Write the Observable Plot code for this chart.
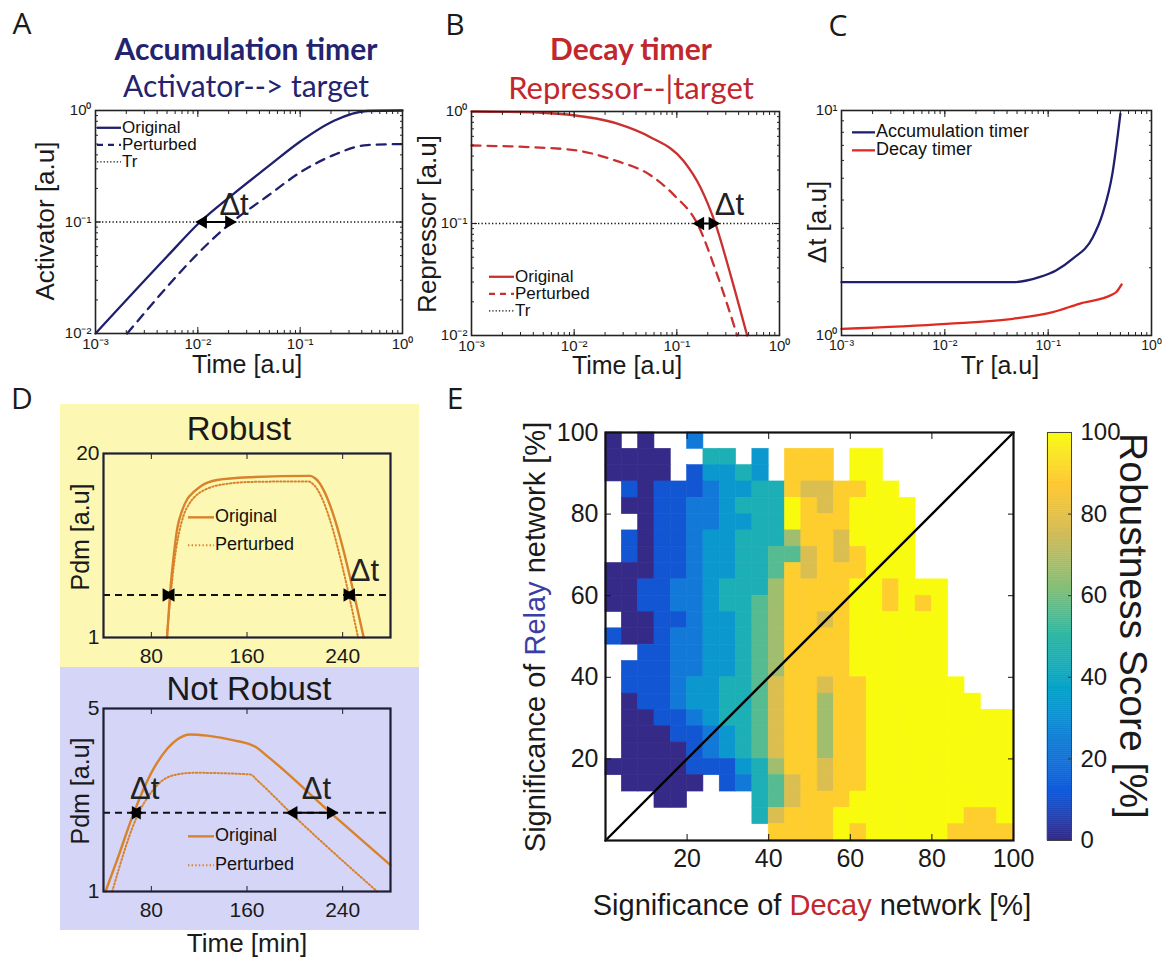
<!DOCTYPE html>
<html><head><meta charset="utf-8">
<script src="https://cdn.jsdelivr.net/npm/d3@7"></script>
<script src="https://cdn.jsdelivr.net/npm/@observablehq/plot@0.6"></script>
<style>
body{margin:0;background:#fff;}
#fig{position:relative;width:1162px;height:963px;overflow:hidden;background:#fff;font-family:"Liberation Sans",Arial,sans-serif;color:#222;}
.abs{position:absolute;white-space:nowrap;line-height:1;}
#fig svg{position:absolute;overflow:visible;}
</style></head>
<body><div id="fig"></div>
<script>
// ================= DATA =================
// Panel A – accumulation timer
const timeTicks = [1e-3, 1e-2, 1e-1, 1];
const timeTickLabels = ["10⁻³", "10⁻²", "10⁻¹", "10⁰"];
const levelTicks = [1e-2, 1e-1, 1];
const levelTickLabels = ["10⁻²", "10⁻¹", "10⁰"];
const accumTime = [0.001, 0.005, 0.0105, 0.0225, 0.0476, 0.101, 0.214, 0.452, 1];
const accumOriginal = [0.01, 0.049, 0.1, 0.18, 0.31, 0.53, 0.81, 0.99, 1];
const accumPertTime = [0.00204, 0.0216, 0.0476, 0.101, 0.214, 0.452, 1];
const accumPerturbed = [0.01, 0.1, 0.17, 0.28, 0.40, 0.49, 0.5];
const trLevel = 0.1;
const accumDeltaT = [0.0105, 0.0216];

// Panel B – decay timer
const decayTime = [0.001, 0.003, 0.00855, 0.0263, 0.0553, 0.117, 0.17, 0.238, 0.333, 0.484];
const decayOriginal = [1, 0.99, 0.94, 0.78, 0.59, 0.36, 0.21, 0.099, 0.035, 0.01];
const decayPertTime = [0.001, 0.00855, 0.0263, 0.0553, 0.0935, 0.158, 0.247, 0.387];
const decayPerturbed = [0.497, 0.46, 0.36, 0.27, 0.18, 0.1, 0.035, 0.01];
const decayDeltaT = [0.158, 0.238];

// Panel C – delta t vs threshold
const trTicks = [1e-3, 1e-2, 1e-1, 1];
const dtTicks = [1, 10];
const dtTickLabels = ["10⁰", "10¹"];
const trAccum = [0.001, 0.0456, 0.082, 0.119, 0.172, 0.269, 0.336, 0.418, 0.5];
const dtAccum = [1.725, 1.725, 1.816, 1.945, 2.19, 2.72, 3.47, 5.23, 9.67];
const trDecay = [0.001, 0.0104, 0.0456, 0.111, 0.2, 0.418, 0.457, 0.514];
const dtDecay = [1.07, 1.127, 1.186, 1.27, 1.383, 1.52, 1.56, 1.686];

// Panel D – Pdm profiles
const minTicks = [80, 160, 240];
const pdmThreshold = 2;
const robustTime = [93.2, 96.0, 98.8, 101.6, 105.8, 110, 115.5, 121.1, 135, 162.9, 213, 217.2, 257.6];
const robustOriginal = [1, 2.22, 3.83, 5.85, 7.92, 9.5, 10.7, 11.7, 13.0, 13.6, 13.9, 13.3, 1];
const robustPertTime = [92.8, 96.2, 99.5, 103, 107, 112, 118, 125, 140, 165, 211.5, 215, 252.9];
const robustPerturbed = [1, 2, 3.6, 5.4, 7.3, 8.9, 10.2, 11.1, 12.1, 12.6, 12.7, 12.2, 1];
const robustDeltaT = [[93.6, 95.2], [244.5, 246.5]];
const notRobustTime = [41.7, 51.4, 65.4, 79.3, 93.3, 101.6, 112.7, 126.7, 149, 167, 176.9, 232.6, 280];
const notRobustOriginal = [1, 1.32, 2.0, 2.8, 3.51, 3.81, 3.98, 3.94, 3.78, 3.57, 3.29, 1.95, 1.26];
const notRobustPertTime = [47.3, 69.5, 79.3, 87.7, 101.6, 115.5, 162.9, 168.5, 196.4, 268.8];
const notRobustPerturbed = [1, 2.0, 2.37, 2.62, 2.80, 2.84, 2.80, 2.66, 2.0, 1];
const notRobustDeltaT = [[65.4, 69.5], [196.4, 232.6]];

// Panel E – robustness score map (4% cells; rows from Relay 100 down to 0,
// columns Decay 0 -> 100; digit d = score d/9*100, "." = no data)
const eCellSize = 4;
const scoreRows = [
  "0.0..2...................",
  "0000..44.3.888.99........",
  "0000.13343.888.99........",
  ".10111233448778899........".slice(0, 25),
  ".001122344498789999......",
  "..01122334498889999......",
  ".101123344468879999......",
  ".101123344557878999......",
  "0001123344587888999......",
  "001122344468888998999....",
  "001122344568888998989....",
  ".00112334568878999999....",
  "100122334568888999999....",
  "..1122334568888999999....",
  ".11122334568888999999....",
  ".111233445788788999999...",
  ".0112334457886889999999..",
  ".001123445788688999999999",
  ".000112345788688999999999",
  ".000012345788688999999999",
  "0000011134688788999999999",
  ".00000.124578788999999999",
  "...00....4578889999999999",
  ".........4788899999999889",
  "..........888898999998888"
];
const eTicks = [20, 40, 60, 80, 100];
const identityLine = [0, 100];
const scoreTicks = [0, 20, 40, 60, 80, 100];
const parula = ["#352a87", "#0f5cdd", "#1481d6", "#06a4ca", "#2eb7a4", "#87bf77", "#d1bb59", "#fec832", "#f9fb0e"];

// ================= HELPERS =================
const fig = document.getElementById("fig");
const SANS = '"Liberation Sans", Arial, sans-serif';
const navy = "#1f1f6e", red = "#c8312f", redC = "#dd2b22", orange = "#d8822c";

function text(str, x, y, o = {}) {
  const d = document.createElement("div");
  d.className = "abs";
  d.innerHTML = str;
  d.style.left = x + "px"; d.style.top = y + "px";
  d.style.fontSize = (o.size || 20) + "px";
  d.style.fontFamily = o.family || SANS;
  d.style.fontWeight = o.weight || "normal";
  d.style.color = o.color || "#1a1a1a";
  const ax = o.anchor === "start" ? "0" : o.anchor === "end" ? "-100%" : "-50%";
  d.style.transform = `translate(${ax},-50%)` + (o.rotate ? ` rotate(${o.rotate}deg)` : "");
  fig.appendChild(d);
  return d;
}
function box(x, y, w, h, color) {
  const d = document.createElement("div");
  d.className = "abs";
  Object.assign(d.style, {left: x + "px", top: y + "px", width: w + "px", height: h + "px", background: color});
  fig.appendChild(d);
}
function legendItem(x, y, len, stroke, dash, width, label, size) {
  const d = document.createElement("div");
  d.className = "abs";
  d.style.left = x + "px"; d.style.top = y + "px";
  d.style.transform = "translate(0,-50%)";
  d.style.fontSize = size + "px"; d.style.fontFamily = SANS; d.style.color = "#111";
  d.style.display = "flex"; d.style.alignItems = "center"; d.style.lineHeight = "0.85";
  d.innerHTML = `<svg width="${len}" height="8" style="position:static;margin-right:1px"><line x1="0" y1="4" x2="${len}" y2="4" stroke="${stroke}" stroke-width="${width}" ${dash ? `stroke-dasharray="${dash}"` : ""}/></svg><span>${label}</span>`;
  fig.appendChild(d);
}
function panel({fx0, fy0, fx1, fy1, ml = 50, mr = 10, mt = 10, mb = 30, x, y, color, marks}) {
  const p = Plot.plot({
    width: fx1 - fx0 + ml + mr, height: fy1 - fy0 + mt + mb,
    marginLeft: ml, marginRight: mr, marginTop: mt, marginBottom: mb,
    x: {...x, axis: null, label: null}, y: {...y, axis: null, label: null},
    color, marks,
    style: {fontFamily: SANS, fontSize: "13px", color: "#1a1a1a", background: "transparent", overflow: "visible"}
  });
  p.style.left = (fx0 - ml) + "px"; p.style.top = (fy0 - mt) + "px";
  fig.appendChild(p);
}
const blank = () => "";
function inTicks({xMajor, xMinor, yMajor, yMinor, len = 6, minor = 3, stroke = "#222"}) {
  const m = [];
  for (const anchor of ["bottom", "top"]) {
    if (xMajor) m.push(Plot.axisX(xMajor, {anchor, tickSize: -len, tickFormat: blank, label: null, stroke}));
    if (xMinor) m.push(Plot.axisX(xMinor, {anchor, tickSize: -minor, tickFormat: blank, label: null, stroke}));
  }
  for (const anchor of ["left", "right"]) {
    if (yMajor) m.push(Plot.axisY(yMajor, {anchor, tickSize: -len, tickFormat: blank, label: null, stroke}));
    if (yMinor) m.push(Plot.axisY(yMinor, {anchor, tickSize: -minor, tickFormat: blank, label: null, stroke}));
  }
  return m;
}
const lab = (ticks, labels) => d => labels[ticks.indexOf(d)];
const series = (xs, ys) => xs.map((t, i) => ({t, v: ys[i]}));
const logMinor = dom => d3.scaleLog().domain(dom).ticks();
// double-headed arrow with filled heads along a horizontal level
function dblArrow(pairs, level, r = 5) {
  return [
    Plot.link(pairs, {x1: d => d[0], x2: d => d[1], y1: () => level, y2: () => level, stroke: "#000", strokeWidth: 2}),
    Plot.dot(pairs, {x: d => d[0], y: () => level, symbol: "triangle", rotate: -90, r, fill: "#000", stroke: "none", dx: 3}),
    Plot.dot(pairs, {x: d => d[1], y: () => level, symbol: "triangle", rotate: 90, r, fill: "#000", stroke: "none", dx: -3})
  ];
}
const dtText = (range, end, dx, dy, size) =>
  Plot.text([range], {x: d => d[end], y: () => trLevel, text: () => "Δt", dx, dy, fontSize: size, fill: "#222"});

// ================= PANEL LETTERS & TITLES =================
const LET = '"Open Sans", sans-serif';
text("A", 22, 23, {size: 30, family: LET});
text("B", 455, 24, {size: 30, family: LET});
text("C", 838, 25, {size: 30, family: LET});
text("D", 22, 398, {size: 30, family: LET});
text("E", 455, 398, {size: 30, family: LET});

text("Accumulation timer", 246, 48, {size: 30, weight: "bold", color: "#23236f", family: "Lato, sans-serif"});
text("Activator--&gt; target", 246, 85, {size: 30, color: "#23236f", family: "Lato, sans-serif"});
text("Decay timer", 631, 48, {size: 30, weight: "bold", color: "#c1272d", family: "Lato, sans-serif"});
text("Repressor--|target", 631, 87, {size: 31, color: "#c1272d", family: "Lato, sans-serif"});

// ================= PANEL A =================
const timeMinor = logMinor([1e-3, 1]);
const levelMinor = logMinor([1e-2, 1]);
panel({
  fx0: 95, fy0: 110, fx1: 402, fy1: 333, ml: 45, mr: 10, mt: 10, mb: 25,
  x: {type: "log", domain: [1e-3, 1]}, y: {type: "log", domain: [1e-2, 1]},
  marks: [
    Plot.ruleY([trLevel], {stroke: "#111", strokeWidth: 1.3, strokeDasharray: "1.3,2.2"}),
    Plot.line(series(accumTime, accumOriginal), {x: "t", y: "v", stroke: navy, strokeWidth: 2.3, curve: "monotone-x"}),
    Plot.line(series(accumPertTime, accumPerturbed), {x: "t", y: "v", stroke: navy, strokeWidth: 2.3, strokeDasharray: "9,7", curve: "monotone-x"}),
    ...dblArrow([accumDeltaT], trLevel),
    dtText(accumDeltaT, 1, 2, -17, 31),
    Plot.axisX(timeTicks, {tickSize: 0, tickPadding: 5, tickFormat: lab(timeTicks, timeTickLabels), fontSize: 15, label: null}),
    Plot.axisY(levelTicks, {tickSize: 0, tickPadding: 4, tickFormat: lab(levelTicks, levelTickLabels), fontSize: 15, label: null}),
    ...inTicks({xMajor: timeTicks, xMinor: timeMinor, yMajor: levelTicks, yMinor: levelMinor}),
    Plot.frame({stroke: "#222", strokeWidth: 1.6})
  ]
});
legendItem(97, 128, 24, navy, null, 2.3, "Original", 17);
legendItem(97, 145, 24, navy, "6,5", 2.3, "Perturbed", 17);
legendItem(97, 162, 24, "#111", "1.3,2", 1.3, "Tr", 17);
text("Activator [a.u]", 45, 221, {size: 26, rotate: -90});
text("Time [a.u]", 247, 364, {size: 25});

// ================= PANEL B =================
panel({
  fx0: 471, fy0: 111, fx1: 779, fy1: 335, ml: 45, mr: 10, mt: 10, mb: 25,
  x: {type: "log", domain: [1e-3, 1]}, y: {type: "log", domain: [1e-2, 1]},
  marks: [
    Plot.ruleY([trLevel], {stroke: "#111", strokeWidth: 1.3, strokeDasharray: "1.3,2.2"}),
    Plot.line(series(decayTime, decayOriginal), {x: "t", y: "v", stroke: red, strokeWidth: 2.3, curve: "monotone-x"}),
    Plot.line(series(decayPertTime, decayPerturbed), {x: "t", y: "v", stroke: red, strokeWidth: 2.3, strokeDasharray: "9,7", curve: "monotone-x"}),
    ...dblArrow([decayDeltaT], trLevel),
    dtText(decayDeltaT, 1, 14, -18, 31),
    Plot.axisX(timeTicks, {tickSize: 0, tickPadding: 5, tickFormat: lab(timeTicks, timeTickLabels), fontSize: 15, label: null}),
    Plot.axisY(levelTicks, {tickSize: 0, tickPadding: 4, tickFormat: lab(levelTicks, levelTickLabels), fontSize: 15, label: null}),
    ...inTicks({xMajor: timeTicks, xMinor: timeMinor, yMajor: levelTicks, yMinor: levelMinor}),
    Plot.frame({stroke: "#222", strokeWidth: 1.6})
  ]
});
legendItem(489, 277, 25, red, null, 2.3, "Original", 17);
legendItem(489, 294, 25, red, "6,5", 2.3, "Perturbed", 17);
legendItem(489, 311, 25, "#111", "1.3,2", 1.3, "Tr", 17);
text("Repressor [a.u]", 427, 224, {size: 26, rotate: -90});
text("Time [a.u]", 627, 365, {size: 25});

// ================= PANEL C =================
const dtMinor = logMinor([1, 10]);
panel({
  fx0: 841, fy0: 110, fx1: 1151, fy1: 335, ml: 40, mr: 8, mt: 10, mb: 25,
  x: {type: "log", domain: [1e-3, 1]}, y: {type: "log", domain: [1, 10]},
  marks: [
    Plot.line(series(trAccum, dtAccum), {x: "t", y: "v", stroke: navy, strokeWidth: 2.3, curve: "monotone-x"}),
    Plot.line(series(trDecay, dtDecay), {x: "t", y: "v", stroke: redC, strokeWidth: 2.3, curve: "monotone-x"}),
    Plot.axisX(trTicks, {tickSize: 0, tickPadding: 5, tickFormat: lab(timeTicks, timeTickLabels), fontSize: 14, label: null}),
    Plot.axisY(dtTicks, {tickSize: 0, tickPadding: 4, tickFormat: lab(dtTicks, dtTickLabels), fontSize: 15, label: null}),
    ...inTicks({xMajor: trTicks, xMinor: timeMinor, yMajor: dtTicks, yMinor: dtMinor}),
    Plot.frame({stroke: "#222", strokeWidth: 1.6})
  ]
});
legendItem(852, 132, 23, navy, null, 2.3, "Accumulation timer", 18);
legendItem(852, 150, 23, redC, null, 2.3, "Decay timer", 18);
text("Δt [a.u]", 817, 222, {size: 26, rotate: -90});
text("Tr [a.u]", 1000, 365, {size: 25});

// ================= PANEL D =================
box(60, 404, 359, 263, "#fcf7b3");
box(60, 667, 359, 263, "#d5d5f7");
text("Robust", 239, 428, {size: 33});
text("Not Robust", 249, 688, {size: 33});

function pdmPanel(fy0, fy1, top, orig, pert, dts, labels) {
  panel({
    fx0: 103, fy0, fx1: 390, fy1, ml: 40, mr: 10, mt: 10, mb: 30,
    x: {domain: [40, 280]}, y: {type: "log", domain: [1, top]},
    marks: [
      Plot.ruleY([pdmThreshold], {stroke: "#111", strokeWidth: 2, strokeDasharray: "7,5"}),
      Plot.line(orig, {x: "t", y: "v", stroke: orange, strokeWidth: 2.4, curve: "monotone-x"}),
      Plot.line(pert, {x: "t", y: "v", stroke: orange, strokeWidth: 2, strokeDasharray: "1.4,2.2", curve: "monotone-x"}),
      ...dblArrow(dts, pdmThreshold, 5),
      ...labels.map(([at, dx]) => Plot.text([at], {x: d => d, y: () => pdmThreshold, text: () => "Δt", dx, dy: -24, fontSize: 31, fill: "#222"})),
      Plot.axisX(minTicks, {tickSize: 0, tickPadding: 11, fontSize: 21, label: null}),
      Plot.axisY([1, top], {tickSize: 0, tickPadding: 4, fontSize: 21, label: null}),
      ...inTicks({xMajor: minTicks, len: 5, stroke: "#1d1d33"}),
      Plot.frame({stroke: "#1d1d33", strokeWidth: 2.2})
    ]
  });
}
pdmPanel(453, 637, 20, series(robustTime, robustOriginal), series(robustPertTime, robustPerturbed),
  robustDeltaT, [[robustDeltaT[1][1], 14]]);
pdmPanel(708, 891, 5, series(notRobustTime, notRobustOriginal), series(notRobustPertTime, notRobustPerturbed),
  notRobustDeltaT, [[notRobustDeltaT[0][1], 6], [notRobustDeltaT[1][0], 26]]);
legendItem(188, 517, 26, orange, null, 2.4, "Original", 18);
legendItem(188, 545, 26, orange, "1.4,2.2", 2, "Perturbed", 18);
legendItem(188, 836, 26, orange, null, 2.4, "Original", 18);
legendItem(188, 865, 26, orange, "1.4,2.2", 2, "Perturbed", 18);
text("Pdm [a.u]", 80, 537, {size: 25, rotate: -90});
text("Pdm [a.u]", 80, 791, {size: 25, rotate: -90});
text("Time [min]", 247, 943, {size: 26});

// ================= PANEL E =================
const cells = [];
scoreRows.forEach((row, r) => [...row].forEach((ch, c) => {
  if (ch !== ".") cells.push({x1: c * eCellSize, x2: (c + 1) * eCellSize, y1: 100 - (r + 1) * eCellSize, y2: 100 - r * eCellSize, score: (+ch) * 100 / 9});
}));
const parulaInterp = d3.piecewise(d3.interpolateRgb, parula);
panel({
  fx0: 605, fy0: 432, fx1: 1013, fy1: 840, ml: 50, mr: 10, mt: 14, mb: 40,
  x: {domain: [0, 100]}, y: {domain: [0, 100]},
  color: {type: "linear", domain: [0, 100], interpolate: () => parulaInterp},
  marks: [
    Plot.rect(cells, {x1: "x1", x2: "x2", y1: "y1", y2: "y2", fill: "score", stroke: "score", strokeWidth: 0.6}),
    Plot.line(identityLine, {x: d => d, y: d => d, stroke: "#000", strokeWidth: 2.4}),
    Plot.axisX(eTicks, {tickSize: 0, tickPadding: 9, fontSize: 25, label: null}),
    Plot.axisY(eTicks, {tickSize: 0, tickPadding: 7, fontSize: 25, label: null}),
    ...inTicks({xMajor: eTicks, yMajor: eTicks, len: 6, stroke: "#111"}),
    Plot.frame({stroke: "#111", strokeWidth: 2.2})
  ]
});
text('Significance of <span style="color:#3a3ea6">Relay</span> network [%]', 535, 637, {size: 29, rotate: -90});
text('Significance of <span style="color:#c1272d">Decay</span> network [%]', 812, 905, {size: 29});

// colorbar
const barSteps = d3.range(0, 100, 0.5);
panel({
  fx0: 1047, fy0: 432, fx1: 1071, fy1: 840, ml: 5, mr: 50, mt: 14, mb: 14,
  x: {domain: [0, 1]}, y: {domain: [0, 100]},
  color: {type: "linear", domain: [0, 100], interpolate: () => parulaInterp},
  marks: [
    Plot.rect(barSteps, {x1: () => 0, x2: () => 1, y1: d => d, y2: d => d + 0.5, fill: d => d + 0.25, stroke: d => d + 0.25, strokeWidth: 0.5}),
    Plot.axisY(scoreTicks, {anchor: "right", tickSize: 0, tickPadding: 9, fontSize: 24, label: null}),
    Plot.axisY(scoreTicks, {anchor: "right", tickSize: -4, tickFormat: blank, label: null, stroke: "#333"}),
    Plot.frame({stroke: "#444", strokeWidth: 1})
  ]
});
text("Robustness Score [%]", 1133, 626, {size: 39, rotate: 90});
</script>
</body></html>
